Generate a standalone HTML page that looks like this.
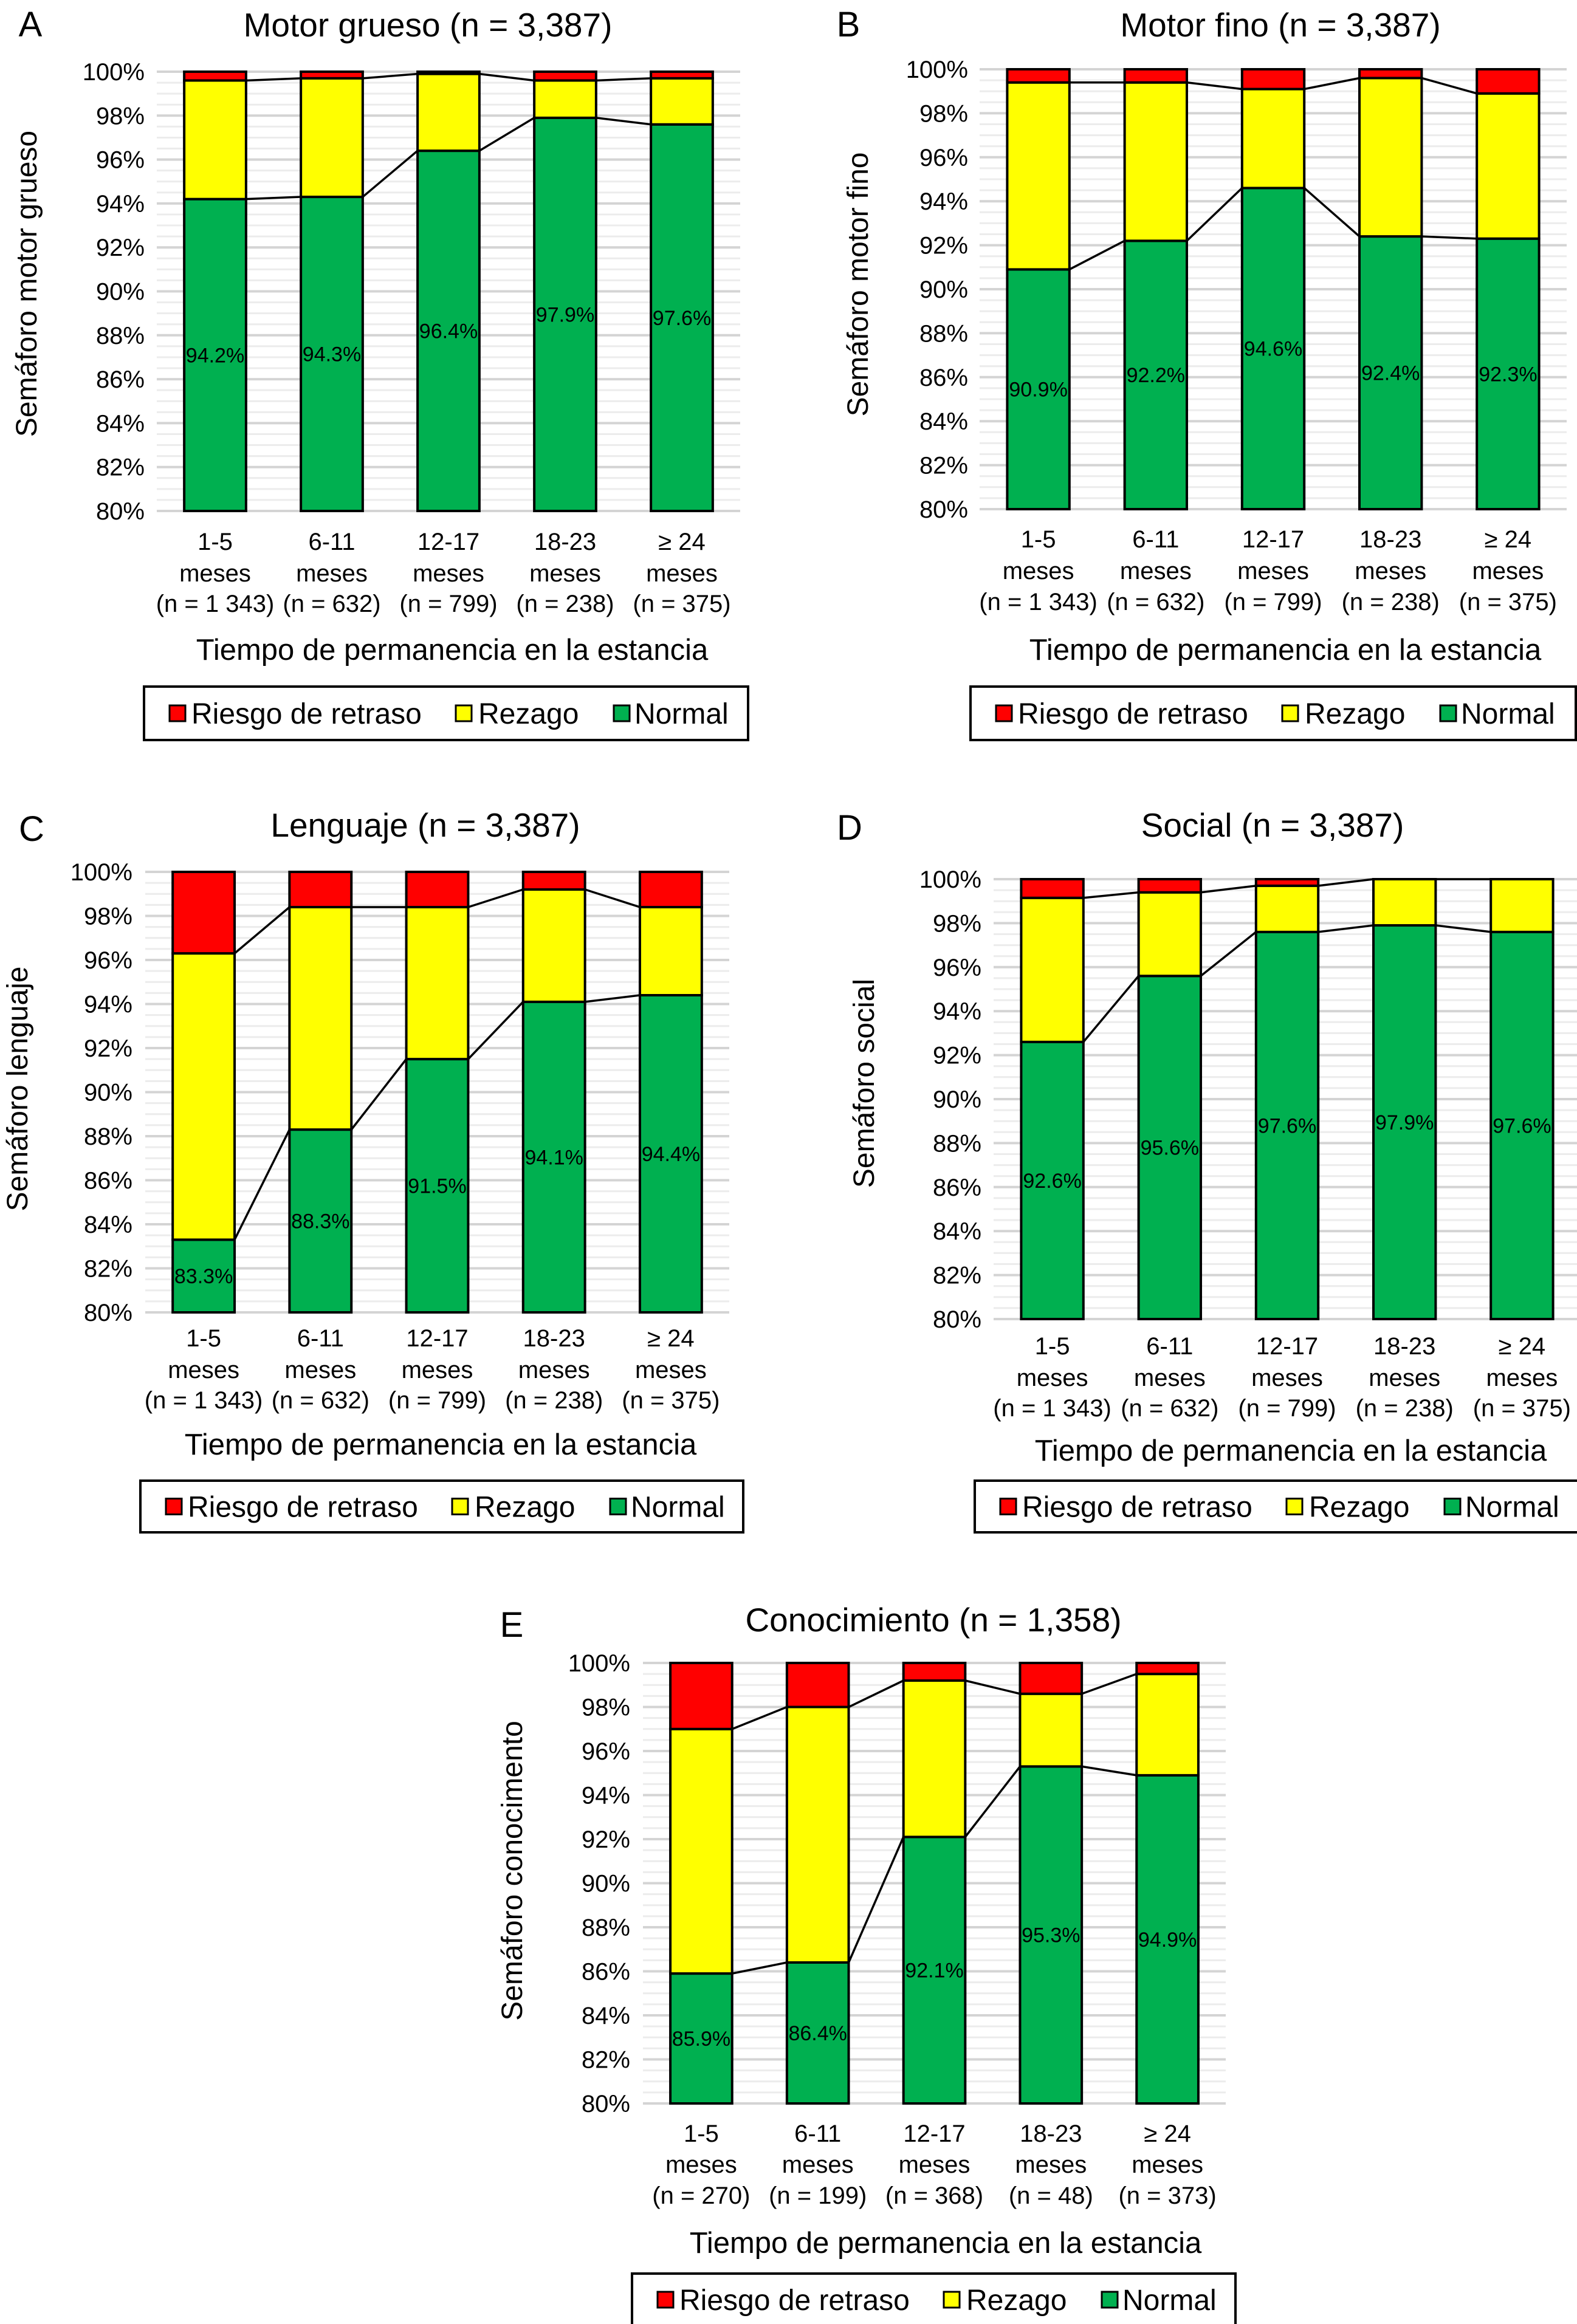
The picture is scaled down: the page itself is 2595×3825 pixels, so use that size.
<!DOCTYPE html>
<html><head><meta charset="utf-8"><style>
html,body{margin:0;padding:0;background:#fff;}
svg{display:block;font-family:"Liberation Sans",Arial,sans-serif;}
</style></head><body>
<svg id="chart" width="2595" height="3825" viewBox="0 0 2595 3825" xmlns="http://www.w3.org/2000/svg"></svg>
<script>
const categories = ["1-5|meses|(n = 1 343)","6-11|meses|(n = 632)","12-17|meses|(n = 799)","18-23|meses|(n = 238)","≥ 24|meses|(n = 375)"];
const categoriesE = ["1-5|meses|(n = 270)","6-11|meses|(n = 199)","12-17|meses|(n = 368)","18-23|meses|(n = 48)","≥ 24|meses|(n = 373)"];
const yTicks = [80,82,84,86,88,90,92,94,96,98,100];
const normalA = [94.2,94.3,96.4,97.9,97.6];
const rezagoTopA = [99.6,99.7,99.9,99.6,99.7];
const normalB = [90.9,92.2,94.6,92.4,92.3];
const rezagoTopB = [99.4,99.4,99.1,99.6,98.9];
const normalC = [83.3,88.3,91.5,94.1,94.4];
const rezagoTopC = [96.3,98.4,98.4,99.2,98.4];
const normalD = [92.6,95.6,97.6,97.9,97.6];
const rezagoTopD = [99.15,99.4,99.7,100,100];
const normalE = [85.9,86.4,92.1,95.3,94.9];
const rezagoTopE = [97.0,98.0,99.2,98.6,99.5];

const panels = [
 {id:'a',letter:'A',title:'Motor grueso (n = 3,387)',ytitle:'Semáforo motor grueso',cats:categories,normal:normalA,top:rezagoTopA,
  x0:258,x1:1218,y0:118,y1:841,lx:50,ly:60,tx:704,ty:60,tickR:238,ytx:43,yty:467,cl:[891,943,993],atx:744,aty:1069,lg:[237,1130,994,88]},
 {id:'b',letter:'B',title:'Motor fino (n = 3,387)',ytitle:'Semáforo motor fino',cats:categories,normal:normalB,top:rezagoTopB,
  x0:1612,x1:2578,y0:114,y1:838,lx:1396,ly:60,tx:2107,ty:60,tickR:1593,ytx:1411,yty:468,cl:[887,939,990],atx:2115,aty:1069,lg:[1597,1130,996,88]},
 {id:'c',letter:'C',title:'Lenguaje (n = 3,387)',ytitle:'Semáforo lenguaje',cats:categories,normal:normalC,top:rezagoTopC,
  x0:239,x1:1200,y0:1435,y1:2160,lx:52,ly:1384,tx:700,ty:1377,tickR:218,ytx:28,yty:1792,cl:[2202,2254,2304],atx:725,aty:2377,lg:[231,2437,992,85]},
 {id:'d',letter:'D',title:'Social (n = 3,387)',ytitle:'Semáforo social',cats:categories,normal:normalD,top:rezagoTopD,
  x0:1635,x1:2601,y0:1447,y1:2171,lx:1398,ly:1382,tx:2094,ty:1377,tickR:1615,ytx:1421,yty:1783,cl:[2215,2267,2317],atx:2124,aty:2387,lg:[1604,2437,996,85]},
 {id:'e',letter:'E',title:'Conocimiento (n = 1,358)',ytitle:'Semáforo conocimento',cats:categoriesE,normal:normalE,top:rezagoTopE,
  x0:1058,x1:2017,y0:2737,y1:3462,lx:842,ly:2694,tx:1536,ty:2685,tickR:1037,ytx:842,yty:3079,cl:[3511,3562,3613],atx:1556,aty:3691,lg:[1040,3742,993,86]}
];
const NS='http://www.w3.org/2000/svg';
const svg=document.getElementById('chart');
function mk(tag,attrs,parent){const e=document.createElementNS(NS,tag);for(const k in attrs)e.setAttribute(k,attrs[k]);(parent||svg).appendChild(e);return e;}
function txt(s,attrs,parent){const e=mk('text',attrs,parent);e.textContent=s;return e;}

panels.forEach(p=>{
  const g=mk('g',{});
  
  
  const ys=v=>p.y1-(v-80)/20*(p.y1-p.y0);
  const bw=(p.x1-p.x0)/5;
  const xc=i=>p.x0+bw*(i+0.5);
  const barW=bw*0.53;
  for(let v=80;v<=100.001;v+=0.5){
    const major=Math.abs(v-Math.round(v/2)*2)<0.01;
    const l=mk('line',{x1:p.x0,x2:p.x1,y1:ys(v),y2:ys(v),stroke:major?'#d4d4d4':'#ececec','stroke-width':major?4:3},g);
    
    
  }
  yTicks.forEach(v=>{
    const t=txt(v+'%',{x:p.tickR,y:ys(v)+14,'font-size':40,'text-anchor':'end',fill:'#000'},g);
    
    
  });
  for(let i=0;i<5;i++){
    const x=xc(i)-barW/2;
    const segs=[[80,p.normal[i],'#00b050','normal'],[p.normal[i],p.top[i],'#ffff00','rezago'],[p.top[i],100,'#ff0000','riesgo']];
    segs.forEach(s=>{
      if(s[1]-s[0]<=0.001)return;
      const r=mk('rect',{x:x,y:ys(s[1]),width:barW,height:ys(s[0])-ys(s[1]),fill:s[2],stroke:'#000','stroke-width':4},g);
      
      
    });
    const lab=txt(p.normal[i].toFixed(1)+'%',{x:xc(i),y:ys((80+p.normal[i])/2)+12,'font-size':34,'text-anchor':'middle',fill:'#000'},g);
    
    
    const lines=p.cats[i].split('|');
    lines.forEach((ln,k)=>{
      const c=txt(ln,{x:xc(i),y:p.cl[k]+14,'font-size':40,'text-anchor':'middle',fill:'#000'},g);
      
      
    });
  }
  for(let i=0;i<4;i++){
    [p.normal,p.top].forEach(arr=>{
      const l=mk('line',{x1:xc(i)+barW/2,y1:ys(arr[i]),x2:xc(i+1)-barW/2,y2:ys(arr[i+1]),stroke:'#000','stroke-width':3.5},g);
      
      
    });
  }
  const L=txt(p.letter,{x:p.lx,y:p.ly,'font-size':58,'text-anchor':'middle',fill:'#000'},g);
  
  
  const T=txt(p.title,{x:p.tx,y:p.ty,'font-size':55,'text-anchor':'middle',fill:'#000'},g);
  
  
  const Y=txt(p.ytitle,{x:0,y:0,'font-size':48,'text-anchor':'middle',fill:'#000',transform:`translate(${p.ytx+17},${p.yty}) rotate(-90)`},g);
  
  
  const A=txt('Tiempo de permanencia en la estancia',{x:p.atx,y:p.aty+17,'font-size':49,'text-anchor':'middle',fill:'#000'},g);
  
  
  const [lx,ly,lw,lh]=p.lg;
  const lgG=mk('g',{},g);
  
  
  mk('rect',{x:lx,y:ly,width:lw,height:lh,fill:'#fff',stroke:'#000','stroke-width':4},lgG);
  const items=[['Riesgo de retraso','#ff0000',42,78],['Rezago','#ffff00',513,550],['Normal','#00b050',773,807]];
  const cy=ly+lh/2;
  items.forEach(it=>{
    const e=mk('g',{},lgG);
    
    
    mk('rect',{x:lx+it[2],y:cy-13,width:26,height:26,fill:it[1],stroke:'#000','stroke-width':3},e);
    txt(it[0],{x:lx+it[3],y:cy+17,'font-size':48,fill:'#000'},e);
  });
});
</script>
</body></html>
